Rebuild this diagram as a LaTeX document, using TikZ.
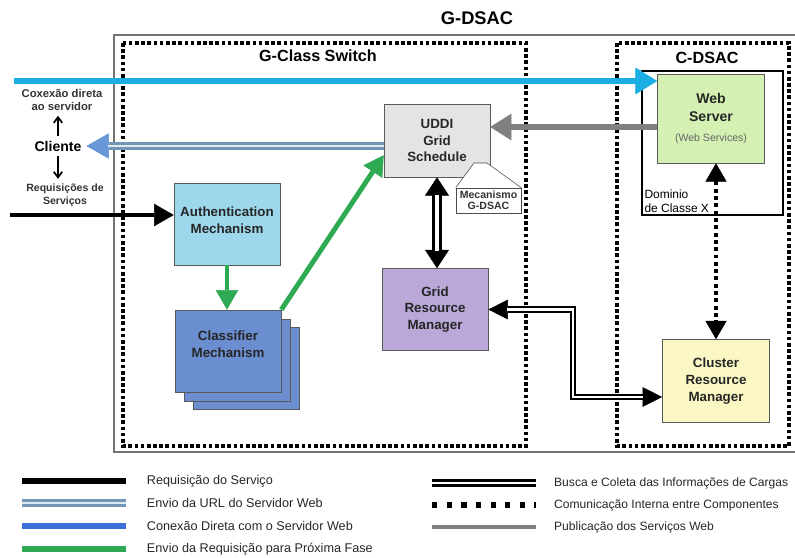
\documentclass[tikz,border=0pt]{standalone}
\usepackage{fontspec}
\setmainfont{Liberation Sans}
\usepackage{tikz}
\usetikzlibrary{arrows.meta, positioning, calc}

\definecolor{directcyan}{RGB}{27,174,226}
\definecolor{authfill}{RGB}{157,215,235}
\definecolor{classfill}{RGB}{106,142,208}
\definecolor{uddifill}{RGB}{228,228,228}
\definecolor{webfill}{RGB}{212,240,178}
\definecolor{gridfill}{RGB}{185,168,216}
\definecolor{clusterfill}{RGB}{251,247,196}
\definecolor{pubgray}{RGB}{128,128,128}
\definecolor{nextgreen}{RGB}{46,170,82}
\definecolor{urlouter}{RGB}{116,150,182}
\definecolor{urlinner}{RGB}{222,234,244}
\definecolor{urlhead}{RGB}{104,150,214}
\definecolor{legblue}{RGB}{62,110,216}

\begin{document}
\begin{tikzpicture}[
    x=0.025cm, y=-0.025cm,
    box/.style={rectangle, draw=black!65, minimum width=2.65cm, minimum height=2.05cm, align=center, text=black!85, font=\bfseries\fontsize{9.5}{12}\selectfont},
    authbox/.style={box, fill=authfill},
    classbox/.style={box, fill=classfill},
    uddibox/.style={box, fill=uddifill, minimum height=1.825cm},
    webbox/.style={box, fill=webfill, minimum width=2.675cm, minimum height=2.225cm, font=\bfseries\fontsize{10}{12.5}\selectfont},
    gridbox/.style={box, fill=gridfill},
    clusterbox/.style={box, fill=clusterfill, minimum width=2.675cm, minimum height=2.075cm},
    maintitle/.style={font=\bfseries\fontsize{13}{15}\selectfont},
    subtitle/.style={font=\bfseries\fontsize{11.5}{14}\selectfont},
    sidetext/.style={align=center, text=black!80, font=\bfseries\fontsize{8}{9.5}\selectfont},
    legtext/.style={text=black!85, font=\fontsize{9}{11}\selectfont},
    dotbox/.style={draw=black, line width=2.6pt, dash pattern=on 2.6pt off 1.8pt},
    smallarrow/.style={-{Straight Barb[length=4pt, width=6pt]}, line width=1.2pt},
    reqarrow/.style={-{Triangle[length=14pt, width=16pt, line width=0.4pt]}, line width=3.5pt},
    directarrow/.style={-{Triangle[length=15.5pt, width=19pt, line width=0.4pt]}, line width=4pt, draw=directcyan},
    pubarrow/.style={-{Triangle[length=15pt, width=19pt, line width=0.4pt]}, line width=4.5pt, draw=pubgray},
    nextarrow/.style={-{Triangle[length=14pt, width=16pt, line width=0.4pt]}, line width=3.5pt, draw=nextgreen},
    urlarrow/.style={-{Triangle[length=16pt, width=18pt, line width=0.4pt, color=urlhead]}, line width=5pt, draw=urlouter, postaction={draw=urlinner, line width=2pt, -, shorten >=15.5pt}},
    gridarrow/.style={{Triangle[length=13pt, width=17pt, line width=0.4pt]}-{Triangle[length=13pt, width=17pt, line width=0.4pt]}, line width=7pt, postaction={draw=white, line width=3pt, -, shorten <=12.5pt, shorten >=12.5pt}},
    loadarrow/.style={{Triangle[length=14pt, width=14pt, line width=0.4pt]}-{Triangle[length=14pt, width=14pt, line width=0.4pt]}, line width=4.4pt, postaction={draw=white, line width=1.6pt, -, shorten <=13.5pt, shorten >=13.5pt}},
    dotarrow/.style={{Triangle[length=13pt, width=15pt, line width=0.4pt]}-{Triangle[length=13pt, width=15pt, line width=0.4pt]}, line width=2.8pt, dash pattern=on 2.8pt off 2.4pt}
]
\useasboundingbox (0,0) rectangle (795,558);

% Frames
\node[maintitle] (gdsac) at (477,18) {G-DSAC};
\draw[black!55, line width=0.8pt] (800,35) -- (114,35) -- (114,452) -- (800,452);
\draw[dotbox] (123,43) rectangle (526,446);
\draw[dotbox] (617,43) rectangle (789,446);
\node[subtitle] (gswitch) at (318,56) {G-Class Switch};
\node[subtitle] (cdsac) at (707,58) {C-DSAC};

% C-DSAC side
\node[draw=black, line width=0.8pt, minimum width=3.525cm, minimum height=3.6cm] (domain) at (712.5,143) {};
\node[anchor=south west, align=left, inner sep=2pt, font=\fontsize{8.5}{10}\selectfont] (domainlabel) at (domain.south west) {Dominio\\de Classe X};
\node[webbox] (web) at (711,118.5) {Web\\Server\\[2pt]{\normalfont\fontsize{7.5}{8.5}\selectfont\color{black!60}(Web Services)}};
\node[clusterbox] (cluster) at (716,381) {Cluster\\Resource\\Manager};

% G-Class Switch side
\node[authbox] (auth) at (227,224) {Authentication\\Mechanism\\[-6.4pt]};
\node[classbox] (classback2) at (246,368) {};
\node[classbox] (classback1) at (237,360) {};
\node[classbox] (classifier) at (228,351) {Classifier\\Mechanism\\[-2pt]};
\node[uddibox] (uddi) at (437,140.5) {UDDI\\Grid\\Schedule};
\node[gridbox] (grid) at (435,309.5) {Grid\\Resource\\Manager};

% Callout
\node[draw=black!70, fill=white, minimum width=1.625cm, minimum height=0.625cm, inner sep=1pt, align=center, text=black!80, font=\bfseries\fontsize{7.5}{8}\selectfont] (callout) at (488.5,200.5) {Mecanismo\\G-DSAC};
\coordinate (roofleft) at (474,163);
\coordinate (roofright) at (487,163);
\draw[black!70, fill=white] (callout.north west) -- (roofleft) -- (roofright) -- (callout.north east);

% Client side
\node[sidetext] (direct) at (62,100) {Coxexão direta\\ao servidor};
\node[font=\bfseries\fontsize{10}{12}\selectfont] (cliente) at (58,146) {Cliente};
\node[sidetext, font=\bfseries\fontsize{7.5}{9}\selectfont] (requests) at (65,195) {Requisições de\\Serviços};
\draw[smallarrow] (cliente.north) -- (cliente.north |- direct.south);
\draw[smallarrow] (cliente.south) -- (cliente.south |- requests.north);

% Arrows
\coordinate (directstart) at (14,81);
\draw[directarrow] (directstart) -- (directstart -| web.west);
\coordinate (reqstart) at (10,215);
\draw[reqarrow] (reqstart) -- (reqstart -| auth.west);
\draw[pubarrow] ($(web.west)+(0,8.5)$) coordinate (pubstart) -- (pubstart -| uddi.east);
\draw[urlarrow] (uddi.west |- cliente.east) -- (cliente.east);
\draw[nextarrow] (auth.south) -- (auth.south |- classifier.north);
\draw[nextarrow] (classifier.north east) -- ($(uddi.south west)!0.3!(uddi.north west)$);
\draw[gridarrow] (uddi.south) -- (uddi.south |- grid.north);
\coordinate (loadbend) at (573,397);
\draw[loadarrow] (grid.east) -| (loadbend) -- (loadbend -| cluster.west);
\draw[dotarrow] (cluster.north |- web.south) -- (cluster.north);

% Legend, left column
\coordinate (leg1a) at (22,481);  \coordinate (leg1b) at (126,481);
\coordinate (leg2a) at (22,503);  \coordinate (leg2b) at (126,503);
\coordinate (leg3a) at (22,526);  \coordinate (leg3b) at (126,526);
\coordinate (leg4a) at (22,549);  \coordinate (leg4b) at (126,549);
\draw[line width=4pt] (leg1a) -- (leg1b);
\draw[line width=5pt, draw=urlouter, postaction={draw=urlinner, line width=2pt}] (leg2a) -- (leg2b);
\draw[line width=4pt, draw=legblue] (leg3a) -- (leg3b);
\draw[line width=4pt, draw=nextgreen] (leg4a) -- (leg4b);
\node[legtext, right=0.4cm of leg1b] (leg1text) {Requisição do Serviço};
\node[legtext, right=0.4cm of leg2b] (leg2text) {Envio da URL do Servidor Web};
\node[legtext, right=0.4cm of leg3b] (leg3text) {Conexão Direta com o Servidor Web};
\node[legtext, right=0.4cm of leg4b] (leg4text) {Envio da Requisição para Próxima Fase};

% Legend, right column
\coordinate (leg5a) at (432,483);  \coordinate (leg5b) at (536,483);
\coordinate (leg6a) at (432,505);  \coordinate (leg6b) at (536,505);
\coordinate (leg7a) at (432,527);  \coordinate (leg7b) at (536,527);
\draw[line width=5pt, postaction={draw=white, line width=1.5pt}] (leg5a) -- (leg5b);
\draw[line width=3.8pt, dash pattern=on 3.8pt off 6.6pt] (leg6a) -- (leg6b);
\draw[line width=3.5pt, draw=pubgray] (leg7a) -- (leg7b);
\node[legtext, font=\fontsize{8.6}{10.5}\selectfont, right=0.33cm of leg5b] (leg5text) {Busca e Coleta das Informações de Cargas};
\node[legtext, font=\fontsize{8.6}{10.5}\selectfont, right=0.33cm of leg6b] (leg6text) {Comunicação Interna entre Componentes};
\node[legtext, font=\fontsize{8.6}{10.5}\selectfont, right=0.33cm of leg7b] (leg7text) {Publicação dos Serviços Web};

\end{tikzpicture}
\end{document}
